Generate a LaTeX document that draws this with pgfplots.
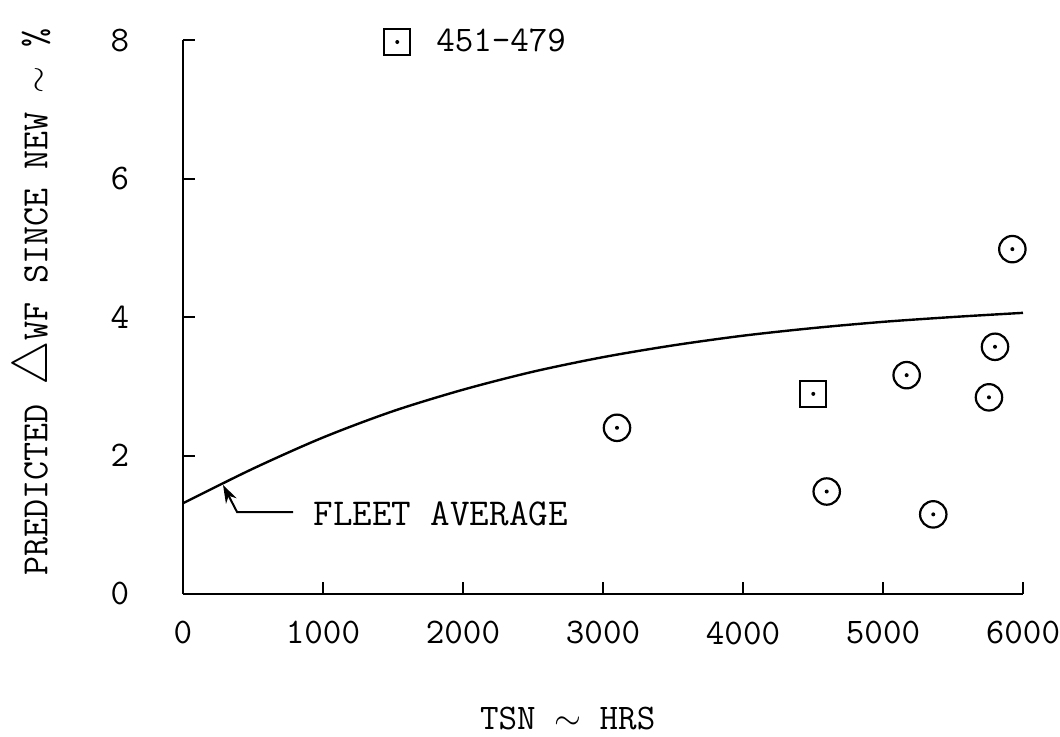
\documentclass[border=0pt]{standalone}
\usepackage{pgfplots}
\pgfplotsset{compat=1.18}
\usetikzlibrary{arrows.meta}
\newcommand\f{\ttfamily\fontsize{18}{21}\selectfont}
\newcommand\fy{\ttfamily\fontsize{18.5}{22}\selectfont}
\pgfdeclareplotmark{codot}{%
  \pgfpathcircle{\pgfpointorigin}{\pgfplotmarksize}\pgfusepathqstroke
  \pgfpathcircle{\pgfpointorigin}{1pt}\pgfusepathqfill}
\pgfdeclareplotmark{sqdot}{%
  \pgfpathrectangle{\pgfpoint{-\pgfplotmarksize}{-\pgfplotmarksize}}{\pgfpoint{2\pgfplotmarksize}{2\pgfplotmarksize}}\pgfusepathqstroke
  \pgfpathcircle{\pgfpointorigin}{1pt}\pgfusepathqfill}
\begin{document}
\begin{tikzpicture}
\useasboundingbox (-91.5pt,-71.5pt) rectangle (438.5pt,297pt);
\begin{axis}[
  scale only axis,
  width=420pt, height=277pt,
  xmin=0, xmax=6000, ymin=0, ymax=8,
  axis lines=left,
  axis line style={-, line width=1.3pt},
  tick align=inside,
  major tick length=6pt,
  tick style={line width=1pt, black},
  xtick={0,1000,2000,3000,4000,5000,6000},
  ytick={0,2,4,6,8},
  /pgf/number format/assume math mode=true,
  /pgf/number format/set thousands separator={},
  xticklabel style={font=\f, anchor=center, yshift=-19.5pt},
  yticklabel style={font=\f, anchor=center, xshift=-31.5pt},
  xlabel={TSN $\sim$ HRS},
  ylabel={PREDICTED \smash{\scalebox{1.45}{$\bigtriangleup$}}WF SINCE NEW $\sim$ \%},
  every axis x label/.style={at={(axis description cs:0.458,-0.224)}, anchor=center, font=\f},
  every axis y label/.style={at={(axis description cs:-0.1750,0.527)}, anchor=center, rotate=90, inner sep=0pt, font=\fy},
  legend style={draw=none, fill=none, inner sep=0pt, outer sep=0pt,
    at={(axis description cs:0.2396,0.9964)}, anchor=west, column sep=11pt, font=\f},
  clip=false,
]
\addplot[black, line width=1.2pt, smooth, forget plot] coordinates {
 (0,1.31) (500,1.81) (1000,2.26) (1500,2.64) (2000,2.95) (2500,3.21)
 (3000,3.42) (3500,3.59) (4000,3.73) (4500,3.84) (5000,3.93) (5500,4.00) (6000,4.06)
};
\addplot[only marks, mark=codot, mark size=6.6pt, black, line width=1.1pt, forget plot] coordinates {
 (3100,2.40) (4598,1.48) (5169,3.16) (5359,1.15) (5757,2.84) (5800,3.57) (5924,4.98)
};
\addplot[only marks, mark=sqdot, mark size=6.5pt, black, line width=1.1pt] coordinates {
 (4502,2.89)
};
\addlegendentry{451-479}
\node[anchor=west, inner sep=0pt, font=\ttfamily\fontsize{19}{22}\selectfont] at (axis cs:929,1.155) {FLEET AVERAGE};
\draw[line width=1pt, -{Stealth[length=9pt,width=6pt]}] (axis cs:786,1.184) -- (axis cs:386,1.184) -- (axis cs:286,1.574);
\end{axis}
\end{tikzpicture}
\end{document}
